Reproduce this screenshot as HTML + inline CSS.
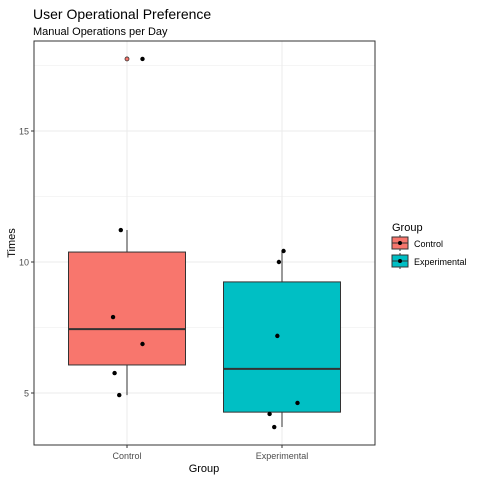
<!DOCTYPE html>
<html><head><meta charset="utf-8"><style>body{margin:0;background:#fff}svg text{font-family:"Liberation Sans",sans-serif}</style></head>
<body>
<svg id="chart" width="480" height="480" xmlns="http://www.w3.org/2000/svg">
<text x="33" y="19" font-size="14" fill="#000">User Operational Preference</text>
<text x="33" y="35" font-size="11" fill="#000">Manual Operations per Day</text>
<g id="grid"></g><g id="marks"></g>
<rect x="34" y="41" width="341" height="404" fill="none" stroke="#333" stroke-width="1"/>
<g id="axes"></g>
<text x="204" y="472" font-size="11" text-anchor="middle">Group</text>
<text transform="translate(15,243) rotate(-90)" font-size="11" text-anchor="middle">Times</text>
<g>
<text x="392" y="231" font-size="11">Group</text>
<g>
<rect x="392" y="237" width="16" height="12" fill="#F8766D" stroke="#333"/><line x1="400" y1="235" x2="400" y2="237" stroke="#333"/><line x1="400" y1="249" x2="400" y2="251" stroke="#333"/><line x1="392" y1="243" x2="408" y2="243" stroke="#333"/><circle cx="400" cy="243" r="2" fill="#000"/>
<text x="414" y="247" font-size="9">Control</text></g>
<g>
<rect x="392" y="255" width="16" height="12" fill="#00BFC4" stroke="#333"/><line x1="400" y1="253" x2="400" y2="255" stroke="#333"/><line x1="400" y1="267" x2="400" y2="269" stroke="#333"/><line x1="392" y1="261" x2="408" y2="261" stroke="#333"/><circle cx="400" cy="261" r="2" fill="#000"/>
<text x="414" y="265" font-size="9">Experimental</text></g>
</g>
</svg>
<script>
const categories=["Control","Experimental"];
const colors=["#F8766D","#00BFC4"];
const q1=[6.07,4.27];
const medians=[7.44,5.92];
const q3=[10.38,9.24];
const whiskLo=[4.92,3.70];
const whiskHi=[11.22,10.42];
const outliers=[[17.75],[]];
const pointsY=[[17.75,11.22,7.9,6.87,5.76,4.92],[10.42,10.0,7.18,4.62,4.2,3.7]];
const jitter=[[0.10,-0.04,-0.09,0.10,-0.08,-0.05],[0.01,-0.02,-0.03,0.10,-0.08,-0.05]];
const yTicks=[5,10,15];
const yMinor=[7.5,12.5,17.5];
const NS="http://www.w3.org/2000/svg";
const y=v=>393-(v-5)*26.2;
const band=155;
const x=i=>127+i*band;
const hw=58.5;
function mk(p,t,a){const e=document.createElementNS(NS,t);for(const k in a)e.setAttribute(k,a[k]);p.appendChild(e);return e;}
const grid=document.getElementById('grid'),marks=document.getElementById('marks'),axes=document.getElementById('axes');
yMinor.forEach(v=>{const l=mk(grid,'line',{x1:34,x2:375,y1:y(v),y2:y(v),stroke:'#ebebeb','stroke-width':0.5});

});
yTicks.forEach(v=>{const l=mk(grid,'line',{x1:34,x2:375,y1:y(v),y2:y(v),stroke:'#ebebeb','stroke-width':1});


const t=mk(axes,'text',{x:29,y:y(v)+3.5,'font-size':9,'text-anchor':'end',fill:'#4d4d4d'});t.textContent=v;


mk(axes,'line',{x1:31,x2:34,y1:y(v),y2:y(v),stroke:'#333'});});
categories.forEach((c,i)=>{const cx=x(i);
const g=mk(grid,'line',{x1:cx,x2:cx,y1:41,y2:445,stroke:'#ebebeb'});


const t=mk(axes,'text',{x:cx,y:459,'font-size':9,'text-anchor':'middle',fill:'#4d4d4d'});t.textContent=c;


mk(axes,'line',{x1:cx,x2:cx,y1:445,y2:448,stroke:'#333'});
const w1=mk(marks,'line',{x1:cx,x2:cx,y1:y(whiskHi[i]),y2:y(q3[i]),stroke:'#333'});


const w2=mk(marks,'line',{x1:cx,x2:cx,y1:y(q1[i]),y2:y(whiskLo[i]),stroke:'#333'});


const b=mk(marks,'rect',{x:cx-hw,width:2*hw,y:y(q3[i]),height:y(q1[i])-y(q3[i]),fill:colors[i],stroke:'#333'});


const m=mk(marks,'line',{x1:cx-hw,x2:cx+hw,y1:y(medians[i]),y2:y(medians[i]),stroke:'#333','stroke-width':2});


outliers[i].forEach(v=>{const o=mk(marks,'circle',{cx:cx,cy:y(v),r:2,fill:colors[i],stroke:'#333','stroke-width':0.8});

});
pointsY[i].forEach((v,j)=>{const p=mk(marks,'circle',{cx:cx+jitter[i][j]*band,cy:y(v),r:2.2,fill:'#000'});

});
});
</script>
</body></html>
